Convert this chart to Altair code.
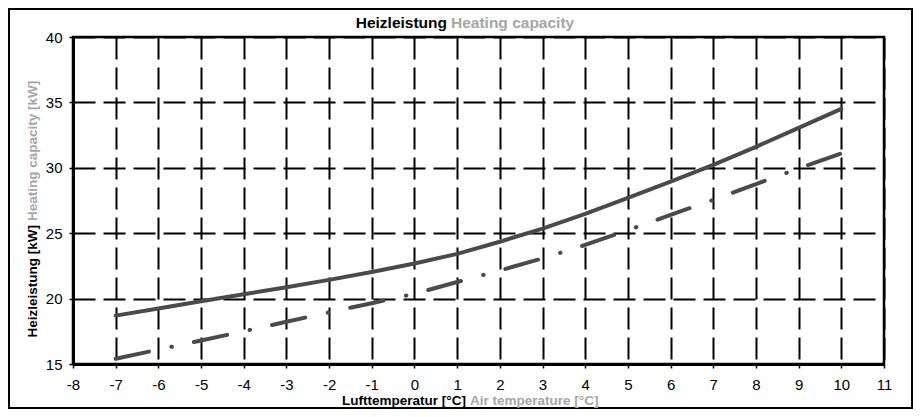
import altair as alt
import pandas as pd

# ---- data ----
temps = [-7, -6, -5, -4, -3, -2, -1, 0, 1, 2, 3, 4, 5, 6, 7, 8, 9, 10]
solid_kw = [18.7, 19.25, 19.8, 20.33, 20.87, 21.43, 22.03, 22.68, 23.42, 24.35,
            25.35, 26.48, 27.7, 28.95, 30.22, 31.6, 33.05, 34.5]
dashdot_kw = [15.4, 16.1, 16.8, 17.5, 18.23, 18.95, 19.65, 20.37, 21.27, 22.15,
              23.07, 24.1, 25.23, 26.4, 27.55, 28.76, 29.95, 31.1]
x_ticks = list(range(-8, 12))
y_ticks = [15, 20, 25, 30, 35, 40]

title_de = "Heizleistung"
title_en = "Heating capacity"
xtitle_de = "Lufttemperatur [°C]"
xtitle_en = "Air temperature [°C]"
ytitle_de = "Heizleistung [kW]"
ytitle_en = "Heating capacity [kW]"

df = pd.DataFrame({
    "t": temps + temps,
    "p": solid_kw + dashdot_kw,
    "s": ["solid"] * len(temps) + ["dashdot"] * len(temps),
})

W, H = 811, 327
FONT = "Liberation Sans"
LINE = "#4a4a4a"
GRAY = "#a6a6a6"

x_scale = alt.Scale(domain=[-8, 11], nice=False, zero=False)
y_scale = alt.Scale(domain=[15, 40], nice=False, zero=False)

HYPHEN = "replace(datum.label, '\u2212', '-')"

x_axis = alt.Axis(values=x_ticks, title=None, grid=True, gridDash=[22, 8],
                  gridColor="black", gridWidth=2, gridOpacity=1,
                  domainColor="black", domainWidth=3,
                  tickColor="black", tickSize=4, tickWidth=1.5,
                  labelFont=FONT, labelFontSize=15, labelColor="black",
                  labelPadding=9, labelFlush=False, labelOverlap=False,
                  format="d", labelExpr=HYPHEN)
y_axis = alt.Axis(values=y_ticks, title=None, grid=True, gridDash=[22, 8],
                  gridColor="black", gridWidth=2, gridOpacity=1,
                  domainColor="black", domainWidth=3,
                  tickColor="black", tickSize=4, tickWidth=1.5,
                  labelFont=FONT, labelFontSize=15, labelColor="black",
                  labelPadding=7, labelFlush=False, labelOverlap=False,
                  format="d")

base = alt.Chart(df)

solid_line = base.transform_filter(alt.datum.s == "solid").mark_line(
    color=LINE, strokeWidth=4, strokeCap="round"
).encode(
    x=alt.X("t:Q", scale=x_scale, axis=x_axis),
    y=alt.Y("p:Q", scale=y_scale, axis=y_axis),
    order="t:Q",
)

dash_line = base.transform_filter(alt.datum.s == "dashdot").mark_line(
    color=LINE, strokeWidth=4, strokeCap="round",
    strokeDash=[34, 23, 0.5, 22.5]
).encode(
    x=alt.X("t:Q", scale=x_scale, axis=x_axis),
    y=alt.Y("p:Q", scale=y_scale, axis=y_axis),
    order="t:Q",
)

one = alt.Data(values=[{"k": 1}])


def label(text, x, y, align, color, size, angle=0):
    kw = dict(text=text, align=align, baseline="middle", font=FONT,
              fontWeight="bold", fontSize=size, color=color)
    if angle:
        kw["angle"] = angle
    return alt.Chart(one).mark_text(**kw).encode(x=alt.value(x), y=alt.value(y))


texts = [
    label(title_de, 374, -14, "right", "black", 15.5),
    label(title_en, 378, -14, "left", GRAY, 15.5),
    label(xtitle_de, 393, 364, "right", "black", 13.5),
    label(xtitle_en, 397, 364, "left", GRAY, 13.5),
    label(ytitle_de, -40, 188, "right", "black", 13.5, 270),
    label(ytitle_en, -40, 184, "left", GRAY, 13.5, 270),
]

border = alt.Chart(one).mark_rect(
    fill="white", fillOpacity=0, stroke="black", strokeWidth=2
).encode(
    x=alt.value(-64), x2=alt.value(839), y=alt.value(-28), y2=alt.value(371)
)

chart = alt.layer(solid_line, dash_line, border, *texts).properties(
    width=W, height=H,
    autosize="none",
    padding={"left": 65, "top": 29, "right": 29, "bottom": 45},
    background="white",
).configure_view(
    stroke="black", strokeWidth=2.5
)

chart.save("out.html", embed_options={"renderer": "svg", "actions": False})
